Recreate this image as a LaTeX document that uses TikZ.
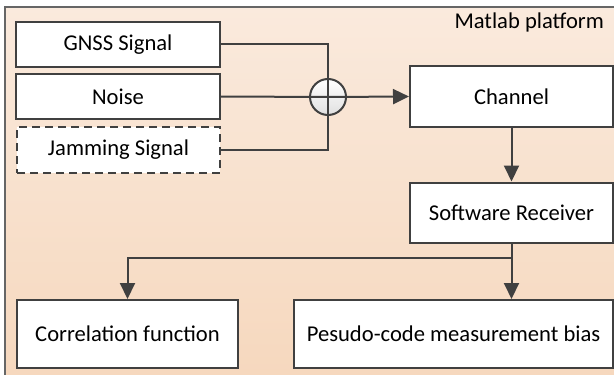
\documentclass[tikz,border=0pt]{standalone}
\usepackage{fontspec}
\setmainfont{Carlito}
\usetikzlibrary{arrows.meta}
\definecolor{lineC}{RGB}{64,64,64}
\definecolor{bgTop}{RGB}{250,234,221}
\definecolor{bgBot}{RGB}{246,216,190}
\tikzset{
  box/.style={draw=lineC, line width=1pt, fill=white, inner sep=0pt, font=\fontsize{11.3}{13}\selectfont},
  conn/.style={draw=lineC, line width=1pt},
  arr/.style={conn, -{Triangle[length=8pt,width=7.5pt]}},
  dashbox/.style={box, dash pattern=on 4pt off 2.5pt}
}
\begin{document}
\begin{tikzpicture}[x=0.5pt,y=-0.5pt]
\useasboundingbox (0,0) rectangle (614,374);
\fill[white] (0,0) rectangle (614,374);
\shade[top color=bgTop, bottom color=bgBot] (5,7) rectangle (614,374);
\draw[lineC!80, line width=1pt] (5,376) -- (5,7) -- (616,7);
\node[anchor=east, font=\fontsize{11.3}{13}\selectfont] (title) at (611,22) {Matlab platform};
\node[box, minimum width=102pt, minimum height=22.5pt] (gnss) at (118,44.5) {GNSS Signal};
\node[box, minimum width=102pt, minimum height=22.5pt] (noise) at (118,96.5) {Noise};
\node[dashbox, minimum width=101.5pt, minimum height=23pt] (jam) at (118.5,150) {Jamming Signal};
\node[draw=lineC, line width=1pt, circle, minimum size=18pt, inner sep=0pt, top color=white, bottom color=black!12] (sum) at (328,97) {};
\node[box, minimum width=101.5pt, minimum height=30.5pt] (chan) at (511.5,96.5) {Channel};
\node[box, minimum width=101.5pt, minimum height=30pt] (recv) at (511.5,212.5) {Software Receiver};
\node[box, minimum width=110.5pt, minimum height=34pt] (corr) at (127.5,334) {Correlation function};
\node[box, minimum width=159.5pt, minimum height=34pt] (bias) at (453.5,334) {Pesudo-code measurement bias};
\coordinate (split) at (recv.south |- 0,258);
\draw[conn] (gnss.east) -| (sum.center);
\draw[conn] (jam.east) -| (sum.center);
\draw[conn] (noise.east) -- (sum.center);
\draw[arr] (sum.center) -- (chan.west);
\draw[arr] (chan.south) -- (recv.north);
\draw[arr] (recv.south) -- (recv.south |- bias.north);
\draw[arr] (split) -| (corr.north);
\end{tikzpicture}
\end{document}
